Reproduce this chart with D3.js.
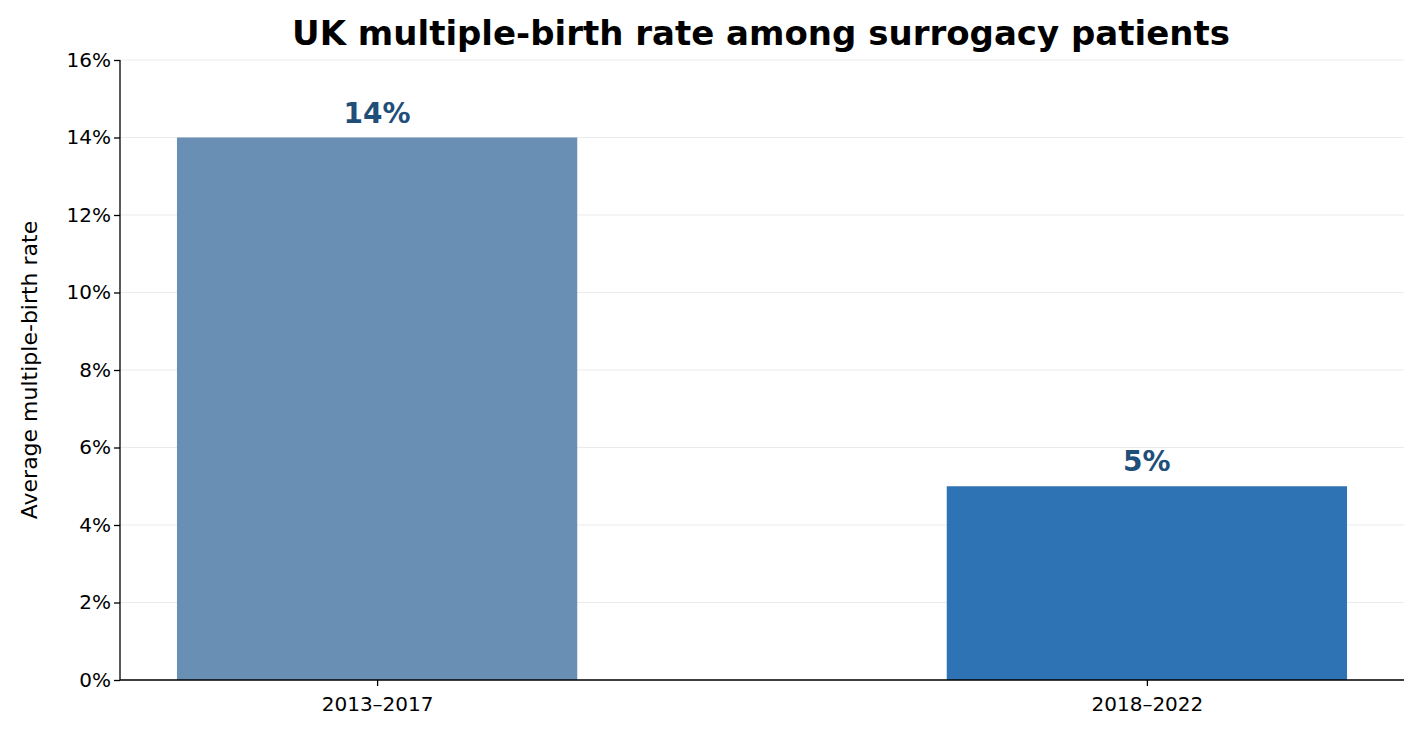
<!DOCTYPE html>
<html>
<head>
<meta charset="utf-8">
<script src="https://cdn.jsdelivr.net/npm/d3@7"></script>
<style>
  body { margin: 0; background: #fff; }
  text { font-family: "DejaVu Sans", sans-serif; }
</style>
</head>
<body>
<script>
// chart data
var periods = ['2013\u20132017', '2018\u20132022'];
var rates = [14, 5];
var barColors = ['#6a8fb4', '#2e73b3'];
var yTicks = [0, 2, 4, 6, 8, 10, 12, 14, 16];

var width = 1422, height = 738;
var mLeft = 120, mRight = 1404, mTop = 60, mBottom = 680;

var svg = d3.select('body').append('svg')
  .attr('width', width)
  .attr('height', height);

var x = d3.scaleLinear().domain([-0.334, 1.334]).range([mLeft, mRight]);
var y = d3.scaleLinear().domain([0, 16]).range([mBottom, mTop]);
var barW = 0.52;

// grid
svg.selectAll('line.grid').data(yTicks).enter()
  .append('line')
  .attr('class', 'grid')
  .attr('x1', mLeft).attr('x2', mRight)
  .attr('y1', function(d) { return y(d); })
  .attr('y2', function(d) { return y(d); })
  .style('stroke', '#ebebeb')
  .style('stroke-width', 1);

// bars
svg.selectAll('rect.bar').data(rates).enter()
  .append('rect')
  .attr('class', 'bar')
  .attr('x', function(d, i) { return x(i - barW / 2); })
  .attr('width', function() { return x(barW) - x(0); })
  .attr('y', function(d) { return y(d); })
  .attr('height', function(d) { return y(0) - y(d); })
  .style('fill', function(d, i) { return barColors[i]; });

// value labels
svg.selectAll('text.val').data(rates).enter()
  .append('text')
  .attr('class', 'val')
  .attr('x', function(d, i) { return x(i); })
  .attr('y', function(d) { return y(d) - 15; })
  .attr('text-anchor', 'middle')
  .style('font-size', '28px')
  .style('font-weight', 'bold')
  .style('fill', '#1f4e79')
  .text(function(d) { return d + '%'; });

// axes
var yAxis = d3.axisLeft(y).tickValues(yTicks).tickFormat(function(d) { return d + '%'; }).tickSize(6);
var gy = svg.append('g').attr('transform', 'translate(' + mLeft + ',0)').call(yAxis);
var xAxis = d3.axisBottom(x).tickValues([0, 1]).tickFormat(function(d) { return periods[d]; }).tickSize(6).tickSizeOuter(0);
var gx = svg.append('g').attr('transform', 'translate(0,' + mBottom + ')').call(xAxis);
[gy, gx].forEach(function(g) {
  g.selectAll('text').style('font-size', '20px').style('fill', '#000');
  g.selectAll('line, path').style('stroke', '#000').style('stroke-width', 1.3);
});
gy.select('.domain').attr('d', 'M0,' + mTop + 'V' + mBottom);
gx.select('.domain').attr('d', 'M' + mLeft + ',0H' + mRight);
gx.selectAll('text').attr('dy', '1.1em');

// labels
svg.append('text')
  .attr('x', (mLeft + mRight) / 2 - 1).attr('y', 45)
  .attr('text-anchor', 'middle')
  .style('font-size', '34px')
  .style('font-weight', 'bold')
  .text('UK multiple-birth rate among surrogacy patients');

svg.append('text')
  .attr('transform', 'translate(37,' + (mTop + mBottom) / 2 + ') rotate(-90)')
  .attr('text-anchor', 'middle')
  .style('font-size', '22px')
  .text('Average multiple-birth rate');
</script>
</body>
</html>
